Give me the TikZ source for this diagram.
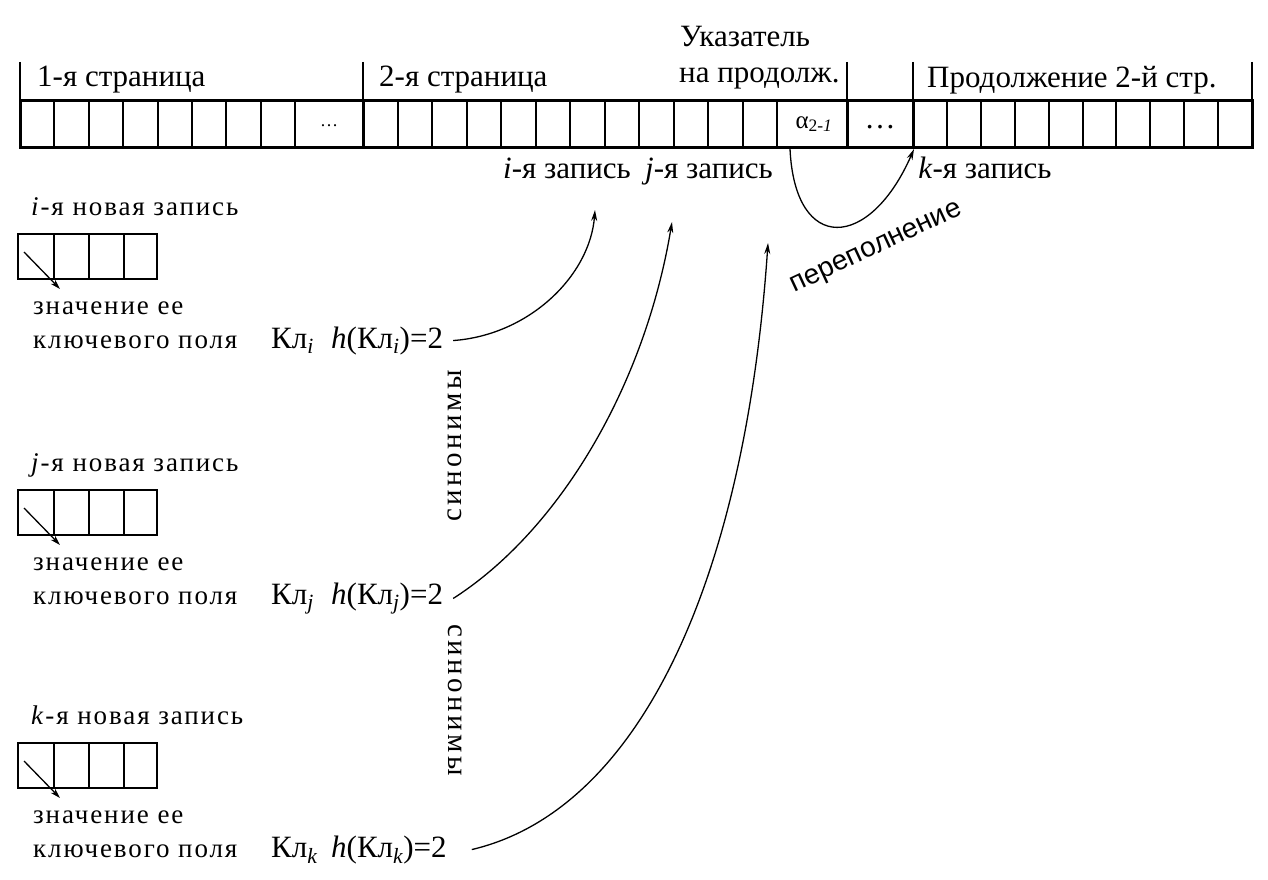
\documentclass[tikz,border=0pt]{standalone}
\usepackage{fontspec}
\setmainfont{Liberation Serif}
\newfontfamily\sansfont{Liberation Sans}
\newfontfamily\spaced[LetterSpace=7]{Liberation Serif}
\newfontfamily\wide[LetterSpace=12]{Liberation Serif}
\usetikzlibrary{arrows.meta}

\begin{document}
\begin{tikzpicture}[x=1pt, y=-1pt, font=\fontsize{31}{35}\selectfont,
  lbl/.style={inner sep=0pt, anchor=west},
  zap/.style={inner sep=0pt, anchor=base},
  lev/.style={inner sep=0pt, anchor=base west, font=\spaced\fontsize{27}{31}\selectfont},
  pil/.style={line width=1.3pt, -{Stealth[length=11pt,width=6pt]}}]
  \useasboundingbox (0,0) rectangle (1268,880);
  % полоса страниц
  \draw[line width=3pt] (20,101) rectangle (1252,147);
  \foreach \i in {1,...,8} \draw[line width=2pt] ({20+34.4*\i},101) -- ++(0,46);
  \foreach \i in {1,...,12} \draw[line width=2pt] ({363+34.5*\i},101) -- ++(0,46);
  \foreach \i in {1,...,9} \draw[line width=2pt] ({913+33.9*\i},101) -- ++(0,46);
  \foreach \x in {363,847,913} \draw[line width=3pt] (\x,101) -- (\x,147);
  \foreach \x in {20,363,847,913,1252} \draw[line width=2pt] (\x,62) -- (\x,101);
  % подписи
  \node[lbl] (p1) at (37,80) {1-я страница};
  \node[lbl] (p2) at (379,80) {2-я страница};
  \node[lbl] (ukaz) at (680,37) {Указатель};
  \node[lbl] (naprod) at (679,78) {на продолж.};
  \node[lbl] (prod) at (927,80) {Продолжение 2-й стр.};
  \node[font=\fontsize{18}{20}\selectfont] (dots1) at (329,126) {\dots};
  \node[font=\fontsize{25}{27}\selectfont] (alpha) at (814,124) {α\textsubscript{2-\itshape 1}};
  \node (dots2) at (880,127) {\dots};
  \node[zap] (reci) at (567,178) {\textit{i}-я запись};
  \node[zap] (recj) at (709,178) {\textit{j}-я запись};
  \node[zap] (reck) at (985,178) {\textit{k}-я запись};
  \node[font=\sansfont\fontsize{28}{32}\selectfont, rotate=25] (perep) at (877,249) {переполнение};
  \node[font=\wide\fontsize{29}{33}\selectfont, rotate=90] (syn1) at (455,446) {синонимы};
  \node[font=\wide\fontsize{29}{33}\selectfont, rotate=-90] (syn2) at (455,700) {синонимы};
  % новые записи
  \foreach \r/\t in {i/207, j/463, k/716} {
    \node[lev] (new\r) at (31,\t+8) {\textit{\r}-я новая запись};
    \draw[line width=2pt] (18,\t+27) rectangle (157,\t+72);
    \foreach \x in {54,89,124} \draw[line width=2pt] (\x,\t+27) -- (\x,\t+72);
    \draw[line width=1.3pt, -{Stealth[length=10pt,width=6pt]}] (24,\t+45) -- (60,\t+82);
    \node[lev] (val\r) at (33,\t+107) {значение ее};
    \node[lev] (key\r) at (33,\t+141) {ключевого поля};
    \node[zap, anchor=base west] (kl\r) at (271,\t+141) {Кл\textsubscript{\itshape\r}};
    \node[zap, anchor=base west] (h\r) at (331,\t+141) {\textit{h}(Кл\textsubscript{\itshape\r})=2};
  }
  % стрелки
  \coordinate (ti) at (595,210);
  \coordinate (tj) at (672,222);
  \coordinate (tk) at (768,243);
  \coordinate (ovs) at (790,149);
  \coordinate (kcell) at (914,149);
  \draw[pil] ([xshift=10pt]hi.east) .. controls (530,335) and (590,275) .. (ti);
  \draw[pil] ([xshift=10pt]hj.east) .. controls (560,530) and (645,385) .. (tj);
  \draw[pil] ([xshift=25pt]hk.east) .. controls (640,810) and (745,580) .. (tk);
  \draw[pil] (ovs) .. controls (795,255) and (870,250) .. (kcell);
\end{tikzpicture}
\end{document}
